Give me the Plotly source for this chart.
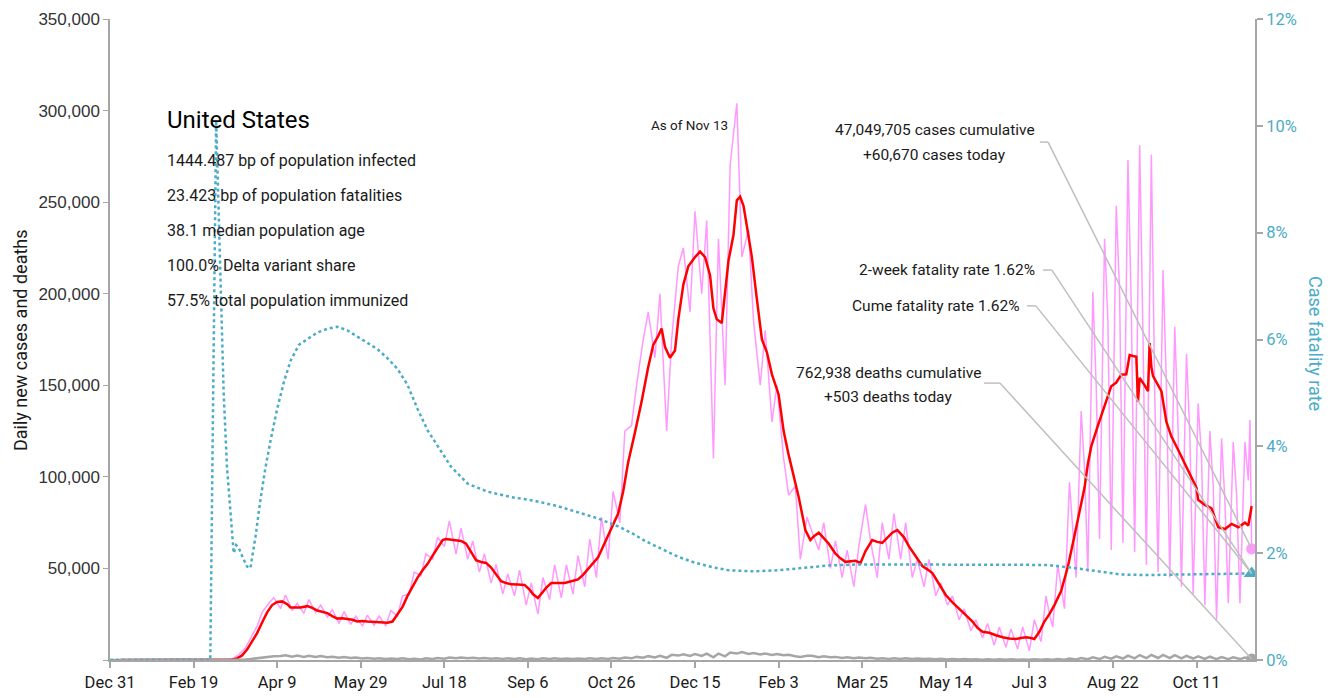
import pandas as pd
import plotly.graph_objects as go

BASE = pd.Timestamp("2019-12-31")

# ---------------- data (day offset from Dec 31, 2019) ----------------
# 7-day average of new cases (red)
red_avg = [(6, 0), (65, 0), (70, 100), (73, 300), (76, 900), (79, 2500), (82, 5700), (85, 10000),
           (88, 14700), (91, 20500), (94, 26000), (97, 30000), (100, 31700), (103, 32000), (106, 30500),
           (108, 28700), (111, 28500), (114, 28700), (118, 29400), (121, 28500), (124, 27000), (127, 26500),
           (130, 25600), (133, 24000), (136, 22600), (139, 22800), (142, 22600), (145, 22000), (148, 21000),
           (151, 21300), (154, 21000), (157, 20800), (160, 20400), (163, 20600), (166, 20400), (169, 21000),
           (172, 25000), (175, 29000), (178, 35000), (181, 40000), (184, 45000), (187, 49000), (190, 52500),
           (193, 57000), (196, 61500), (199, 65500), (201, 66000), (204, 65800), (207, 65600), (210, 65000),
           (213, 63500), (216, 59000), (219, 54500), (222, 53500), (225, 53000), (228, 50500), (231, 46500),
           (234, 43000), (237, 42000), (240, 41300), (244, 41200), (248, 41000), (251, 38500), (253, 36000),
           (256, 33800), (258, 36000), (261, 39500), (264, 42000), (268, 42200), (272, 42000), (276, 43000),
           (280, 44000), (283, 46500), (286, 49500), (289, 52500), (292, 56000), (295, 62000), (298, 68000),
           (301, 74000), (304, 80000), (307, 92000), (310, 108000), (314, 124000), (318, 141000),
           (322, 160000), (325, 172000), (328, 177000), (330, 181000), (332, 171000), (335, 165000),
           (338, 169000), (340, 186000), (343, 205000), (346, 215000), (350, 220000), (353, 223000),
           (356, 220000), (359, 210000), (361, 192000), (363, 186000), (366, 184000), (368, 203000),
           (370, 218000), (373, 232000), (375, 251000), (377, 253000), (379, 248000), (381, 237000),
           (384, 220000), (387, 197000), (390, 175000), (393, 168000), (396, 156000), (400, 145000),
           (403, 125000), (406, 112000), (409, 100000), (412, 89000), (416, 71000), (419, 65500),
           (421, 67500), (424, 69500), (427, 66500), (430, 63500), (434, 58000), (437, 55500), (440, 53600),
           (443, 54000), (446, 54200), (449, 53000), (452, 59500), (456, 65500), (459, 64500), (462, 64000),
           (465, 66500), (468, 69500), (471, 71000), (475, 67000), (478, 62000), (481, 58000), (486, 51300),
           (489, 49500), (492, 47500), (496, 41500), (500, 35500), (504, 31500), (508, 28200), (512, 24500),
           (516, 21000), (519, 17500), (522, 15400), (526, 14900), (530, 13500), (534, 12400), (538, 11800),
           (542, 11500), (545, 12000), (548, 12400), (551, 12000), (553, 11500), (556, 15400), (559, 21000),
           (562, 25000), (565, 30000), (569, 37600), (573, 50800), (577, 67800), (580, 81000), (583, 94000),
           (585, 107000), (587, 116500), (591, 128000), (595, 139000), (599, 149500), (602, 151500),
           (605, 155800), (608, 156000), (610, 166500), (612, 166000), (614, 165600), (615, 141000),
           (616, 154000), (619, 150000), (621, 146800), (622, 173000), (623, 160000), (624, 155000),
           (627, 150000), (629, 146800), (632, 130000), (635, 122000), (639, 114800), (643, 107000),
           (647, 99700), (650, 94000), (651, 87500), (655, 84700), (659, 82800), (663, 72500), (667, 71500),
           (671, 74300), (675, 72500), (679, 75000), (681, 73400), (683, 84000)]

# daily new cases (pink): value on day 7k and on day 7k+4, k = 0..97
cases_day7k = [0, 0, 0, 0, 0, 0, 0, 0, 0, 0,
               300, 3000, 12000, 26000, 34000, 35500, 31000, 33000, 30000, 27500,
               26500, 24000, 24500, 24000, 27000, 35000, 48000, 58000, 67000, 76000,
               72000, 65000, 58000, 52000, 47000, 49000, 42000, 45000, 52000, 52000,
               57000, 66000, 78000, 92000, 125000, 150000, 190000, 200000, 175000, 225000,
               245000, 240000, 230000, 270000, 220000, 185000, 180000, 150000, 90000, 55000,
               70000, 75000, 65000, 60000, 62000, 65000, 75000, 80000, 75000, 55000,
               55000, 42000, 35000, 28000, 22000, 20000, 18000, 17000, 18000, 22000,
               35000, 52000, 97000, 136000, 201000, 230000, 248000, 273000, 281000, 276000,
               213000, 182000, 167000, 140000, 125000, 121000, 119000, 119000]
cases_day7k4 = [0, 0, 0, 0, 0, 0, 0, 0, 0, 100,
                900, 6500, 18500, 31000, 28000, 27000, 25500, 26000, 23500, 20000,
                19500, 18500, 19000, 18500, 24000, 36000, 46000, 55000, 62000, 58000,
                55000, 48000, 42000, 36000, 35000, 30000, 25000, 33000, 34000, 36000,
                40000, 45000, 55000, 75000, 128000, 175000, 165000, 125000, 215000, 190000,
                200000, 110000, 150000, 304000, 235000, 150000, 130000, 110000, 95000, 78000,
                60000, 50000, 45000, 40000, 85000, 45000, 55000, 55000, 45000, 40000,
                35000, 30000, 22000, 16000, 12000, 8000, 7000, 6000, 5000, 10000,
                18000, 28000, 45000, 48000, 66000, 60000, 64000, 59000, 52000, 48000,
                45000, 40000, 36000, 30000, 22000, 31000, 31000, 60670]
# mid-week values during the 2021 summer/autumn wave (day, cases)
cases_midweek = [(562, 25000), (569, 40000), (576, 70000), (583, 105000), (590, 150000), (597, 185000),
                 (604, 200000), (611, 192000), (618, 177000), (625, 147000), (632, 150000), (639, 126000),
                 (646, 124000), (653, 111000), (660, 95000), (667, 87000), (674, 90000), (681, 98000),
                 (682, 131000)]

# daily new deaths (gray): value on day 7k and on day 7k+4
deaths_day7k = [0, 0, 0, 0, 0, 0, 0, 0, 0, 0,
                5, 60, 500, 1300, 2100, 2600, 2400, 2300, 2200, 1800,
                1600, 1400, 1100, 900, 800, 900, 700, 900, 1100, 1300,
                1300, 1200, 1100, 1000, 900, 900, 800, 900, 900, 800,
                800, 900, 1000, 1100, 1300, 1700, 2100, 2300, 2800, 3100,
                3300, 3500, 3500, 4100, 4300, 3800, 3600, 3300, 2800, 1700,
                2300, 2000, 1700, 1500, 1300, 1200, 1000, 900, 900, 800,
                700, 650, 600, 500, 450, 400, 350, 350, 300, 350,
                400, 500, 800, 1100, 1500, 1700, 2000, 2400, 2700, 2800,
                2800, 2600, 2300, 2000, 1800, 1600, 1500, 1400]
deaths_day7k4 = [0, 0, 0, 0, 0, 0, 0, 0, 0, 0,
                 20, 250, 1000, 1900, 2200, 1800, 1700, 1600, 1500, 1200,
                 1100, 800, 700, 500, 500, 400, 300, 500, 700, 900,
                 900, 800, 700, 600, 500, 400, 400, 500, 500, 500,
                 500, 500, 600, 700, 900, 1200, 1400, 1200, 2400, 2200,
                 2200, 1500, 2000, 3500, 3300, 3000, 2800, 2600, 2000, 2300,
                 1500, 1500, 1100, 900, 900, 700, 600, 600, 500, 500,
                 400, 300, 300, 250, 200, 150, 150, 100, 100, 100,
                 150, 200, 300, 400, 500, 700, 800, 900, 1000, 1100,
                 1000, 900, 800, 600, 500, 500, 500, 503]

# case fatality rate, % (teal dotted, right axis)
fatality = [(0, 0.0), (60, 0.0), (63.5, 10.1), (66, 7.0), (68, 5.0), (70, 3.6), (72.5, 2.5), (74, 2.0),
            (75.5, 2.15), (77, 2.1), (79, 1.95), (82, 1.75), (84, 1.72), (87, 2.3), (90, 3.0), (93, 3.6),
            (96, 4.1), (100, 4.7), (104, 5.2), (108, 5.6), (113, 5.9), (118, 6.0), (124, 6.13), (130, 6.2),
            (136, 6.24), (142, 6.17), (148, 6.05), (154, 5.94), (160, 5.82), (166, 5.65), (172, 5.45),
            (178, 5.15), (184, 4.7), (190, 4.3), (196, 4.0), (204, 3.62), (214, 3.3), (226, 3.15),
            (240, 3.05), (254, 2.98), (268, 2.88), (280, 2.77), (292, 2.65), (304, 2.5), (312, 2.38),
            (320, 2.23), (330, 2.08), (340, 1.93), (350, 1.82), (360, 1.74), (370, 1.68), (385, 1.66),
            (400, 1.68), (415, 1.73), (430, 1.77), (450, 1.79), (480, 1.79), (510, 1.79), (540, 1.79),
            (560, 1.78), (575, 1.73), (590, 1.66), (605, 1.6), (620, 1.59), (640, 1.6), (660, 1.61),
            (683, 1.62)]

last_day = 683
last_cases = 60670
last_deaths = 503
last_rate = 1.62

tick_days = [0, 50, 100, 150, 200, 250, 300, 350, 400, 450, 500, 550, 600, 650]
tick_labels = ["Dec 31", "Feb 19", "Apr 9", "May 29", "Jul 18", "Sep 6", "Oct 26",
               "Dec 15", "Feb 3", "Mar 25", "May 14", "Jul 3", "Aug 22", "Oct 11"]

stats_lines = ["1444.487 bp of population infected",
               "23.423 bp of population fatalities",
               "38.1 median population age",
               "100.0% Delta variant share",
               "57.5% total population immunized"]


# ---------------- helpers ----------------
def d(day):
    return BASE + pd.Timedelta(days=day)


def weekly_pairs(a_vals, b_vals, extra):
    pts = []
    for k, v in enumerate(a_vals):
        pts.append((7 * k, v))
    for k, v in enumerate(b_vals):
        pts.append((7 * k + 4, v))
    pts.extend(extra)
    pts.sort()
    return [d(p[0]) for p in pts], [p[1] for p in pts]


FONT = "Roboto, Liberation Sans, sans-serif"
PINK = "#ff99ff"
RED = "#ff0000"
TEAL = "#4bacc6"
GRAY = "#a6a6a6"
TXT = "#1a1a1a"

case_x, case_y = weekly_pairs(cases_day7k, cases_day7k4, cases_midweek)
death_x, death_y = weekly_pairs(deaths_day7k, deaths_day7k4, [])

fig = go.Figure()
fig.add_trace(go.Scatter(x=case_x, y=case_y, mode="lines", line=dict(color=PINK, width=1.5)))
fig.add_trace(go.Scatter(x=[d(p[0]) for p in red_avg], y=[p[1] for p in red_avg], mode="lines",
                         line=dict(color=RED, width=2.5)))
fig.add_trace(go.Scatter(x=death_x, y=death_y, mode="lines", line=dict(color=GRAY, width=2.5)))
fig.add_trace(go.Scatter(x=[d(p[0]) for p in fatality], y=[p[1] / 100 for p in fatality], yaxis="y2",
                         mode="lines", line=dict(color=TEAL, width=2.5, dash="dot")))
# end markers
fig.add_trace(go.Scatter(x=[d(last_day)], y=[last_cases], mode="markers",
                         marker=dict(color=PINK, size=11, symbol="circle")))
fig.add_trace(go.Scatter(x=[d(last_day)], y=[last_deaths], mode="markers",
                         marker=dict(color=GRAY, size=11, symbol="circle")))
fig.add_trace(go.Scatter(x=[d(last_day)], y=[last_rate / 100], yaxis="y2", mode="markers",
                         marker=dict(color=TEAL, size=14, symbol="triangle-up")))

# leader lines (horizontal stub + diagonal to end marker)
leaders = [
    ("y", 556.3, 561.2, 282800, last_cases),
    ("y2", 558.2, 563.5, 0.0730, last_rate / 100),
    ("y2", 548.6, 553.9, 0.0663, last_rate / 100),
    ("y", 522.9, 532.4, 151200, last_deaths),
]
shapes = []
for yref, d0, d1, yv, yend in leaders:
    shapes.append(dict(type="line", xref="x", yref=yref, x0=d(d0), x1=d(d1), y0=yv, y1=yv,
                       line=dict(color="#bfbfbf", width=1.5)))
    shapes.append(dict(type="line", xref="x", yref=yref, x0=d(d1), x1=d(last_day), y0=yv, y1=yend,
                       line=dict(color="#bfbfbf", width=1.5)))


def note(text, x, y, size, xanchor="left", color=TXT, angle=0):
    return dict(text=text, x=x, y=y, xref="paper", yref="paper", xanchor=xanchor, yanchor="middle",
                showarrow=False, textangle=angle, font=dict(family=FONT, size=size, color=color))


ann = [note("United States", 0.048, 0.8424, 24, color="#000")]
for i, line in enumerate(stats_lines):
    ann.append(note(line, 0.048, 0.7800 - i * 0.0546, 16))
ann.append(note("47,049,705 cases cumulative", 0.7205, 0.8268, 15.5, "center"))
ann.append(note("+60,670 cases today", 0.7205, 0.7878, 15.5, "center"))
ann.append(note("2-week fatality rate 1.62%", 0.8096, 0.6084, 15.5, "right"))
ann.append(note("Cume fatality rate 1.62%", 0.7965, 0.5523, 15.5, "right"))
ann.append(note("762,938 deaths cumulative", 0.6795, 0.4477, 15.5, "center"))
ann.append(note("+503 deaths today", 0.6795, 0.4103, 15.5, "center"))
ann.append(note("As of Nov 13", 0.5057, 0.8346, 13.5, "center"))
ann.append(note("Daily new cases and deaths", -0.0786, 0.4992, 18, "center", angle=-90))
ann.append(note("Case fatality rate", 1.0533, 0.4945, 18, "center", color=TEAL, angle=90))

left_vals = [0, 50000, 100000, 150000, 200000, 250000, 300000, 350000]
left_text = [""] + [f"{v:,}" for v in left_vals[1:]]

# page body keeps its default 8px margin, so the figure is sized to end at the window edge
fig.update_layout(
    width=1327, height=690,
    margin=dict(l=102, r=80, t=11, b=38, autoexpand=False),
    paper_bgcolor="white", plot_bgcolor="white",
    showlegend=False,
    xaxis=dict(type="date", range=[d(0), d(685)], tickvals=[d(t) for t in tick_days], ticktext=tick_labels,
               showgrid=False, zeroline=False, showline=True, linecolor=GRAY, linewidth=1.5,
               ticks="outside", ticklen=6, tickcolor=GRAY, tickwidth=1.5, automargin=False,
               tickfont=dict(family=FONT, size=16.5, color=TXT)),
    yaxis=dict(range=[0, 350000], tickvals=left_vals, ticktext=left_text, showgrid=False, zeroline=False,
               showline=True, linecolor=GRAY, linewidth=1.5, ticks="outside", ticklen=5, tickcolor=GRAY,
               automargin=False,
               tickfont=dict(family="Liberation Sans, Arial, sans-serif", size=17, color="#333")),
    yaxis2=dict(range=[0, 0.12], dtick=0.02, tickformat=".0%", overlaying="y", side="right", anchor="x",
                showgrid=False, zeroline=False, showline=True, linecolor=GRAY, linewidth=2,
                ticks="outside", ticklen=6, tickcolor=GRAY, tickwidth=1.5, automargin=False,
                tickfont=dict(family=FONT, size=16.5, color=TEAL)),
    shapes=shapes,
    annotations=ann,
)

fig.write_html("out.html")
